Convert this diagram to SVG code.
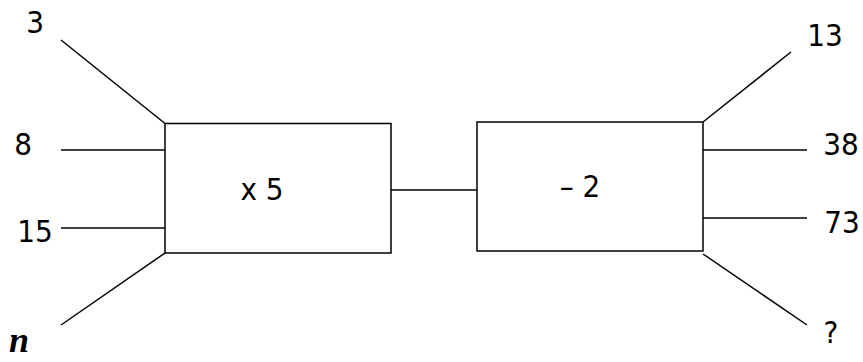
<svg xmlns="http://www.w3.org/2000/svg" width="863" height="362" viewBox="0 0 863 362">
<style>
.box{fill:#fff;stroke:#000;stroke-width:1.5}
.ln{stroke:#000;stroke-width:1.5;fill:none}
.t{font-family:'DejaVu Sans Condensed','DejaVu Sans',sans-serif;font-size:31px;fill:#000}
.n{font-family:'Liberation Serif',serif;font-size:36px;font-weight:bold;font-style:italic;fill:#000}
</style>
<rect width="863" height="362" fill="#fff"/>
<g id="connectors">
<line class="ln" x1="61" y1="40" x2="165" y2="123.5"/>
<line class="ln" x1="61" y1="150" x2="165" y2="150"/>
<line class="ln" x1="61" y1="228" x2="165" y2="228"/>
<line class="ln" x1="61" y1="325" x2="165" y2="253"/>
<line class="ln" x1="391" y1="190" x2="477" y2="190"/>
<line class="ln" x1="703" y1="122" x2="791" y2="52"/>
<line class="ln" x1="703" y1="150" x2="807" y2="150"/>
<line class="ln" x1="703" y1="218" x2="807" y2="218"/>
<line class="ln" x1="703" y1="254" x2="807" y2="325"/>
</g>
<g id="box-times5">
<rect class="box" x="165" y="123.5" width="226" height="129.5"/>
<text class="t" x="262" y="200" text-anchor="middle">x 5</text>
</g>
<g id="box-minus2">
<rect class="box" x="477" y="122" width="226" height="129"/>
<text class="t" x="580" y="197" text-anchor="middle">– 2</text>
</g>
<g id="inputs">
<text class="t" x="35" y="33" text-anchor="middle">3</text>
<text class="t" x="23" y="155" text-anchor="middle">8</text>
<text class="t" x="35" y="242" text-anchor="middle">15</text>
<text class="n" x="9" y="352">n</text>
</g>
<g id="outputs">
<text class="t" x="825" y="46" text-anchor="middle">13</text>
<text class="t" x="841" y="155" text-anchor="middle">38</text>
<text class="t" x="842" y="233" text-anchor="middle">73</text>
<text class="t" x="831" y="343" text-anchor="middle">?</text>
</g>
</svg>
